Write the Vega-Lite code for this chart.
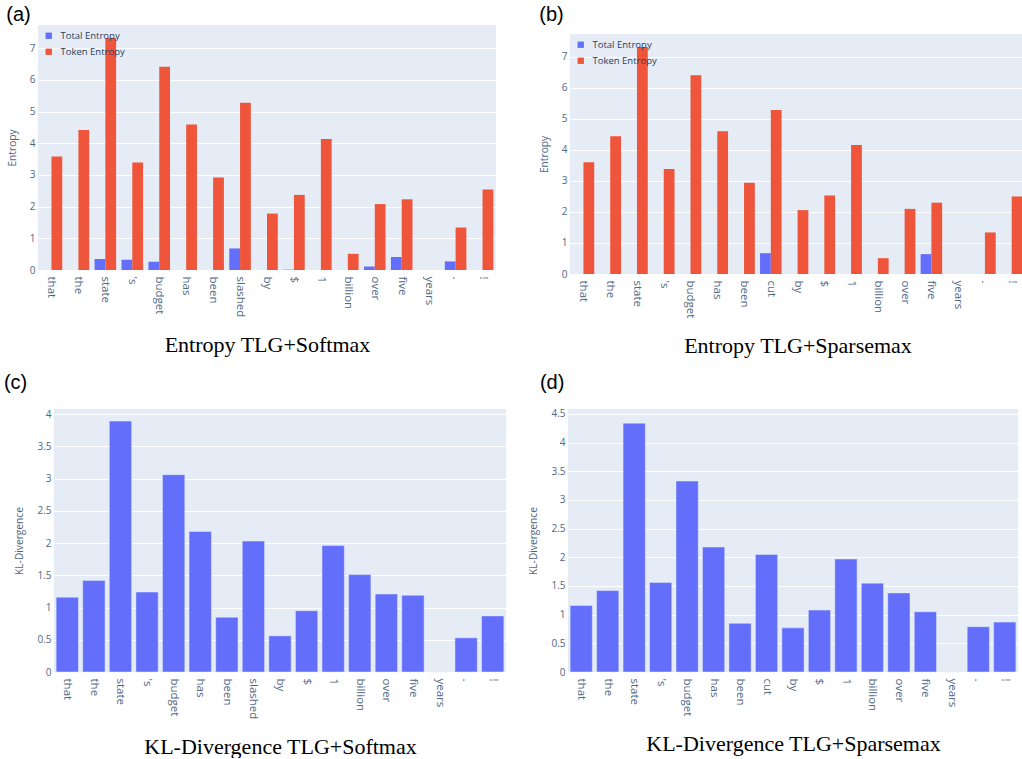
{
  "$schema": "https://vega.github.io/schema/vega-lite/v6.json",
  "padding": {"left": -38, "top": 4, "right": 0, "bottom": 0},
  "background": "white",
  "datasets": {
    "blank": [],
    "ent_soft": [
      {"token": "that", "series": "Total Entropy", "value": 0}, {"token": "that", "series": "Token Entropy", "value": 3.58},
      {"token": "the", "series": "Total Entropy", "value": 0}, {"token": "the", "series": "Token Entropy", "value": 4.42},
      {"token": "state", "series": "Total Entropy", "value": 0.35}, {"token": "state", "series": "Token Entropy", "value": 7.32},
      {"token": "'s", "series": "Total Entropy", "value": 0.32}, {"token": "'s", "series": "Token Entropy", "value": 3.39},
      {"token": "budget", "series": "Total Entropy", "value": 0.26}, {"token": "budget", "series": "Token Entropy", "value": 6.41},
      {"token": "has", "series": "Total Entropy", "value": 0}, {"token": "has", "series": "Token Entropy", "value": 4.59},
      {"token": "been", "series": "Total Entropy", "value": 0}, {"token": "been", "series": "Token Entropy", "value": 2.92},
      {"token": "slashed", "series": "Total Entropy", "value": 0.68}, {"token": "slashed", "series": "Token Entropy", "value": 5.28},
      {"token": "by", "series": "Total Entropy", "value": 0}, {"token": "by", "series": "Token Entropy", "value": 1.78},
      {"token": "$", "series": "Total Entropy", "value": 0.01}, {"token": "$", "series": "Token Entropy", "value": 2.37},
      {"token": "1", "series": "Total Entropy", "value": 0}, {"token": "1", "series": "Token Entropy", "value": 4.13},
      {"token": "billion", "series": "Total Entropy", "value": 0}, {"token": "billion", "series": "Token Entropy", "value": 0.51},
      {"token": "over", "series": "Total Entropy", "value": 0.11}, {"token": "over", "series": "Token Entropy", "value": 2.08},
      {"token": "five", "series": "Total Entropy", "value": 0.41}, {"token": "five", "series": "Token Entropy", "value": 2.23},
      {"token": "years", "series": "Total Entropy", "value": 0}, {"token": "years", "series": "Token Entropy", "value": 0},
      {"token": ".", "series": "Total Entropy", "value": 0.27}, {"token": ".", "series": "Token Entropy", "value": 1.34},
      {"token": "!", "series": "Total Entropy", "value": 0}, {"token": "!", "series": "Token Entropy", "value": 2.54}
    ],
    "ent_sparse": [
      {"token": "that", "series": "Total Entropy", "value": 0}, {"token": "that", "series": "Token Entropy", "value": 3.6},
      {"token": "the", "series": "Total Entropy", "value": 0}, {"token": "the", "series": "Token Entropy", "value": 4.44},
      {"token": "state", "series": "Total Entropy", "value": 0}, {"token": "state", "series": "Token Entropy", "value": 7.32},
      {"token": "'s", "series": "Total Entropy", "value": 0}, {"token": "'s", "series": "Token Entropy", "value": 3.39},
      {"token": "budget", "series": "Total Entropy", "value": 0}, {"token": "budget", "series": "Token Entropy", "value": 6.41},
      {"token": "has", "series": "Total Entropy", "value": 0}, {"token": "has", "series": "Token Entropy", "value": 4.6},
      {"token": "been", "series": "Total Entropy", "value": 0}, {"token": "been", "series": "Token Entropy", "value": 2.94},
      {"token": "cut", "series": "Total Entropy", "value": 0.67}, {"token": "cut", "series": "Token Entropy", "value": 5.29},
      {"token": "by", "series": "Total Entropy", "value": 0}, {"token": "by", "series": "Token Entropy", "value": 2.06},
      {"token": "$", "series": "Total Entropy", "value": 0}, {"token": "$", "series": "Token Entropy", "value": 2.53},
      {"token": "1", "series": "Total Entropy", "value": 0}, {"token": "1", "series": "Token Entropy", "value": 4.16},
      {"token": "billion", "series": "Total Entropy", "value": 0}, {"token": "billion", "series": "Token Entropy", "value": 0.51},
      {"token": "over", "series": "Total Entropy", "value": 0}, {"token": "over", "series": "Token Entropy", "value": 2.1},
      {"token": "five", "series": "Total Entropy", "value": 0.64}, {"token": "five", "series": "Token Entropy", "value": 2.3},
      {"token": "years", "series": "Total Entropy", "value": 0}, {"token": "years", "series": "Token Entropy", "value": 0},
      {"token": ".", "series": "Total Entropy", "value": 0}, {"token": ".", "series": "Token Entropy", "value": 1.34},
      {"token": "!", "series": "Total Entropy", "value": 0}, {"token": "!", "series": "Token Entropy", "value": 2.5}
    ],
    "kl_soft": [
      {"token": "that", "value": 1.16}, {"token": "the", "value": 1.42}, {"token": "state", "value": 3.89},
      {"token": "'s", "value": 1.24}, {"token": "budget", "value": 3.06}, {"token": "has", "value": 2.18},
      {"token": "been", "value": 0.85}, {"token": "slashed", "value": 2.03}, {"token": "by", "value": 0.56},
      {"token": "$", "value": 0.95}, {"token": "1", "value": 1.96}, {"token": "billion", "value": 1.51},
      {"token": "over", "value": 1.21}, {"token": "five", "value": 1.19}, {"token": "years", "value": 0},
      {"token": ".", "value": 0.53}, {"token": "!", "value": 0.87}
    ],
    "kl_sparse": [
      {"token": "that", "value": 1.16}, {"token": "the", "value": 1.42}, {"token": "state", "value": 4.34},
      {"token": "'s", "value": 1.56}, {"token": "budget", "value": 3.33}, {"token": "has", "value": 2.18},
      {"token": "been", "value": 0.85}, {"token": "cut", "value": 2.05}, {"token": "by", "value": 0.77},
      {"token": "$", "value": 1.08}, {"token": "1", "value": 1.97}, {"token": "billion", "value": 1.55},
      {"token": "over", "value": 1.38}, {"token": "five", "value": 1.05}, {"token": "years", "value": 0},
      {"token": ".", "value": 0.79}, {"token": "!", "value": 0.87}
    ]
  },
  "vconcat": [
    {
      "concat": [
        {"width": 1, "height": 1, "view": {"fill": null, "stroke": null}, "data": {"name": "blank"}, "mark": {"type": "point", "opacity": 0}, "encoding": {}},
        {"width": 1, "height": 1, "view": {"fill": null, "stroke": null}, "data": {"name": "blank"}, "mark": {"type": "point", "opacity": 0}, "encoding": {}},
        {"width": 1, "height": 1, "view": {"fill": null, "stroke": null}, "data": {"name": "blank"}, "mark": {"type": "point", "opacity": 0}, "encoding": {}},
        {"width": 1, "height": 1, "view": {"fill": null, "stroke": null}, "data": {"name": "blank"}, "mark": {"type": "point", "opacity": 0}, "encoding": {}},
        {
          "title": {"text": "(a)", "offset": 0, "dx": -1},
          "width": 458, "height": 245,
          "data": {"name": "ent_soft"},
          "mark": {"type": "bar"},
          "encoding": {
            "x": {"field": "token", "type": "nominal", "sort": null, "scale": {"paddingInner": 0.2, "paddingOuter": 0.1}, "axis": {"title": "Entropy TLG+Softmax"}},
            "xOffset": {"field": "series", "type": "nominal", "scale": {"domain": ["Total Entropy", "Token Entropy"], "paddingInner": 0, "paddingOuter": 0}},
            "y": {"field": "value", "type": "quantitative", "stack": null, "scale": {"domain": [0, 7.73], "nice": false}, "axis": {"title": "Entropy", "values": [0, 1, 2, 3, 4, 5, 6, 7]}},
            "color": {"field": "series", "type": "nominal", "scale": {"domain": ["Total Entropy", "Token Entropy"], "range": ["#636EFA", "#EF553B"]}, "legend": {"title": null}}
          }
        },
        {
          "title": {"text": "(b)", "offset": 9, "dx": 0},
          "width": 455, "height": 240,
          "data": {"name": "ent_sparse"},
          "mark": {"type": "bar"},
          "encoding": {
            "x": {"field": "token", "type": "nominal", "sort": null, "scale": {"paddingInner": 0.2, "paddingOuter": 0.1}, "axis": {"title": "Entropy TLG+Sparsemax"}},
            "xOffset": {"field": "series", "type": "nominal", "scale": {"domain": ["Total Entropy", "Token Entropy"], "paddingInner": 0, "paddingOuter": 0}},
            "y": {"field": "value", "type": "quantitative", "stack": null, "scale": {"domain": [0, 7.74], "nice": false}, "axis": {"title": "Entropy", "values": [0, 1, 2, 3, 4, 5, 6, 7]}},
            "color": {"field": "series", "type": "nominal", "scale": {"domain": ["Total Entropy", "Token Entropy"], "range": ["#636EFA", "#EF553B"]}, "legend": {"title": null}}
          }
        }
      ],
      "columns": 3,
      "align": "none",
      "spacing": {"row": 0, "column": 43},
      "resolve": {"scale": {"color": "independent"}, "legend": {"color": "independent"}}
    },
    {
      "hconcat": [
        {"width": 19, "height": 1, "view": {"fill": null, "stroke": null}, "data": {"name": "blank"}, "mark": {"type": "point", "opacity": 0}, "encoding": {}},
        {
          "title": {"text": "(c)", "offset": 16, "dx": -11},
          "width": 452, "height": 263,
          "data": {"name": "kl_soft"},
          "mark": {"type": "bar", "color": "#636EFA", "stroke": "#E5ECF6", "strokeWidth": 0.5},
          "encoding": {
            "x": {"field": "token", "type": "nominal", "sort": null, "scale": {"paddingInner": 0.16, "paddingOuter": 0.08}, "axis": {"title": "KL-Divergence TLG+Softmax"}},
            "y": {"field": "value", "type": "quantitative", "scale": {"domain": [0, 4.078], "nice": false}, "axis": {"title": "KL-Divergence", "values": [0, 0.5, 1, 1.5, 2, 2.5, 3, 3.5, 4], "format": "~g"}}
          }
        },
        {
          "title": {"text": "(d)", "offset": 16, "dx": 11},
          "width": 450, "height": 263,
          "data": {"name": "kl_sparse"},
          "mark": {"type": "bar", "color": "#636EFA", "stroke": "#E5ECF6", "strokeWidth": 0.5},
          "encoding": {
            "x": {"field": "token", "type": "nominal", "sort": null, "scale": {"paddingInner": 0.16, "paddingOuter": 0.08}, "axis": {"title": "KL-Divergence TLG+Sparsemax"}},
            "y": {"field": "value", "type": "quantitative", "scale": {"domain": [0, 4.587], "nice": false}, "axis": {"title": "KL-Divergence", "values": [0, 0.5, 1, 1.5, 2, 2.5, 3, 3.5, 4, 4.5], "format": "~g"}}
          }
        }
      ],
      "align": "none",
      "spacing": 22
    }
  ],
  "align": "none",
  "spacing": 15,
  "resolve": {"scale": {"color": "independent"}, "legend": {"color": "independent"}},
  "config": {
    "view": {"fill": "#E5ECF6", "stroke": null},
    "font": "Open Sans",
    "axis": {"domain": false, "ticks": false, "labelFont": "Open Sans", "labelFontSize": 10, "labelColor": "#506784", "titleFont": "Open Sans", "titleFontWeight": "normal", "titleColor": "#506784", "labelOverlap": false},
    "axisY": {"grid": true, "gridColor": "white", "gridWidth": 1, "labelPadding": 3, "titleFontSize": 10.2, "titlePadding": 12},
    "axisX": {"grid": false, "labelAngle": 90, "labelAlign": "left", "labelBaseline": "middle", "labelPadding": 6, "labelFontSize": 11.5, "titleFont": "Liberation Serif", "titleFontSize": 22, "titleColor": "black", "titlePadding": 18},
    "title": {"font": "Liberation Sans", "fontSize": 20, "fontWeight": "normal", "color": "black", "anchor": "start", "frame": "bounds"},
    "legend": {"orient": "top-left", "offset": 6, "symbolType": "square", "symbolSize": 40, "symbolStrokeWidth": 0, "labelFont": "Open Sans", "labelFontSize": 9.5, "labelColor": "#2a3f5f", "rowPadding": 5, "padding": 0, "labelOffset": 7}
  }
}
